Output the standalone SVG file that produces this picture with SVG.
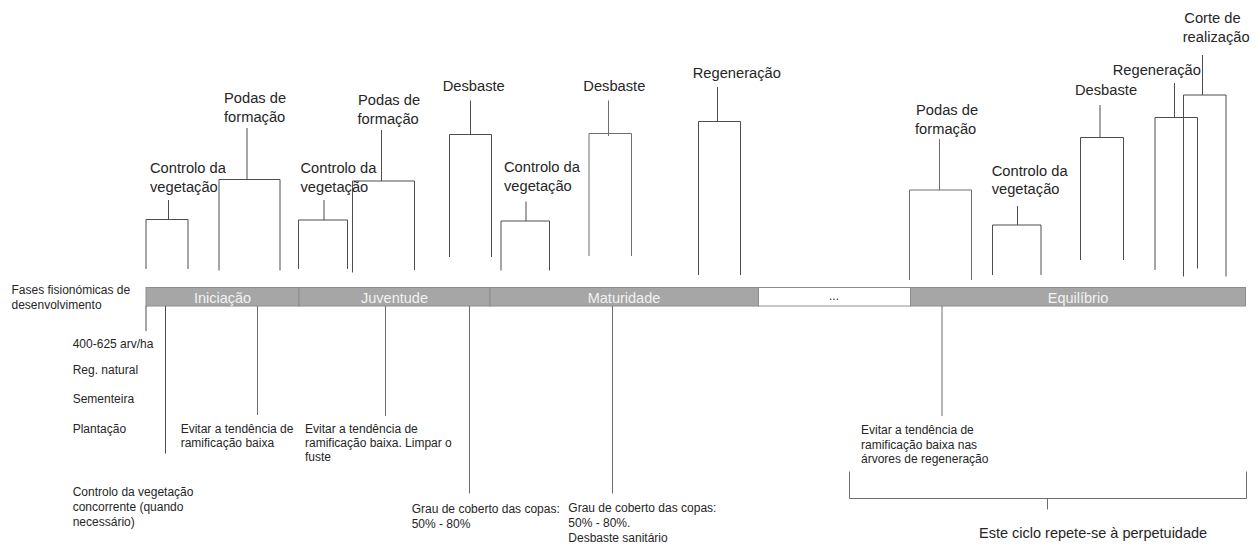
<svg xmlns="http://www.w3.org/2000/svg" width="1259" height="548" viewBox="0 0 1259 548">
<style>
  .t { font-family: "Liberation Sans", Arial, sans-serif; fill: #262626; }
  .lbl { font-size: 14.7px; }
  .sm { font-size: 12px; }
  .ph { font-family: "Liberation Sans", Arial, sans-serif; font-size: 14.5px; fill: #f2f2f2; text-anchor: middle; }
  .seg { fill: #a6a6a6; stroke: #8c8c8c; stroke-width: 1; }
  .segw { fill: #ffffff; stroke: #8c8c8c; stroke-width: 1; }
  .ln { fill: none; stroke: #4d4d4d; stroke-width: 1; }
  .lg { fill: none; stroke: #6e6e6e; stroke-width: 1; }
</style>
<rect width="1259" height="548" fill="#ffffff"/>

<!-- Phase bar -->
<g id="bar">
  <g id="phase-iniciacao"><rect class="seg" x="146" y="287.5" width="153" height="18.5"/><text class="ph" x="222.5" y="302.5">Iniciação</text></g>
  <g id="phase-juventude"><rect class="seg" x="299" y="287.5" width="191" height="18.5"/><text class="ph" x="394.5" y="302.5">Juventude</text></g>
  <g id="phase-maturidade"><rect class="seg" x="490" y="287.5" width="268.5" height="18.5"/><text class="ph" x="624" y="302.5">Maturidade</text></g>
  <g id="phase-dots"><rect class="segw" x="758.5" y="287.5" width="152" height="18.5"/><text class="t" x="834" y="300" font-size="12" text-anchor="middle">...</text></g>
  <g id="phase-equilibrio"><rect class="seg" x="910.5" y="287.5" width="335" height="18.5"/><text class="ph" x="1078" y="302.5">Equilíbrio</text></g>
</g>

<g id="title-fases"><text class="t sm" x="11.5" y="294">Fases fisionómicas de</text><text class="t sm" x="11.5" y="309">desenvolvimento</text></g>

<!-- Connectors -->
<g id="connectors">
  <!-- top brackets -->
  <path class="ln" d="M168.5 200V219.5M146 269V219.5H188V269"/>
  <path class="ln" d="M247 128V179.5M219 270.5V179.5H280V270.5"/>
  <path class="ln" d="M324 200V220M298.5 269V220H347.5V269"/>
  <path class="ln" d="M381.5 130V181M352.5 272.5V181H414.5V270"/>
  <path class="ln" d="M470.5 100.5V134.5M449.5 257V134.5H491.5V257"/>
  <path class="ln" d="M526 201.5V221M501 270.5V221H549.5V270.5"/>
  <path class="lg" d="M608.5 100.5V136M589 256V133.5H631.5V256"/>
  <path class="ln" d="M717.5 87V121.5M698.5 275V121.5H740.5V275"/>
  <path class="lg" d="M939.5 139V190M909.5 280V190H971.5V280"/>
  <path class="ln" d="M1017.5 206V225M992.5 275V225H1041V275"/>
  <path class="ln" d="M1100 105V137.5M1080.5 260V137.5H1123.5V260"/>
  <path class="ln" d="M1174.5 83V117.5M1155 270V117.5H1197.5V268.5"/>
  <path class="ln" d="M1202.5 55V95M1183.5 276.5V95H1226V276.5"/>
  <!-- lines below bar -->
  <path class="ln" d="M146 306V331"/>
  <path class="ln" d="M165.5 306V453.5"/>
  <path class="lg" d="M257.5 306V415"/>
  <path class="lg" d="M385.5 306V416"/>
  <path class="lg" d="M469.5 306V493.5"/>
  <path class="lg" d="M612.5 306V493.5"/>
  <path class="lg" d="M942 306V416"/>
  <!-- bottom cycle bracket -->
  <path class="lg" d="M849.5 471.5V498.5H1246.5V471.5M1047.5 498.5V509.5"/>
</g>

<!-- Top activity labels -->
<g id="ctrl-1"><text class="t lbl" x="150" y="172.5">Controlo da</text><text class="t lbl" x="150" y="191.5">vegetação</text></g>
<g id="podas-1"><text class="t lbl" x="224" y="102.5">Podas de</text><text class="t lbl" x="224" y="121.5">formação</text></g>
<g id="ctrl-2"><text class="t lbl" x="300.5" y="172.5">Controlo da</text><text class="t lbl" x="300.5" y="191.5">vegetação</text></g>
<g id="podas-2"><text class="t lbl" x="358" y="105">Podas de</text><text class="t lbl" x="357.5" y="124">formação</text></g>
<g id="desbaste-1"><text class="t lbl" x="442.7" y="90.7">Desbaste</text></g>
<g id="ctrl-3"><text class="t lbl" x="504" y="171.7">Controlo da</text><text class="t lbl" x="504" y="190.5">vegetação</text></g>
<g id="desbaste-2"><text class="t lbl" x="583.3" y="90.7">Desbaste</text></g>
<g id="regen-1"><text class="t lbl" x="692.7" y="78">Regeneração</text></g>
<g id="podas-3"><text class="t lbl" x="916" y="115">Podas de</text><text class="t lbl" x="915" y="134">formação</text></g>
<g id="ctrl-4"><text class="t lbl" x="991.7" y="175.5">Controlo da</text><text class="t lbl" x="991.7" y="194">vegetação</text></g>
<g id="desbaste-3"><text class="t lbl" x="1075" y="94.5">Desbaste</text></g>
<g id="regen-2"><text class="t lbl" x="1112.7" y="74.5">Regeneração</text></g>
<g id="corte"><text class="t lbl" x="1184.3" y="23.3">Corte de</text><text class="t lbl" x="1182.7" y="42">realização</text></g>

<!-- Bottom annotations -->
<g id="densidade">
  <text class="t sm" x="72.7" y="348.3">400-625 arv/ha</text>
  <text class="t sm" x="72.7" y="374">Reg. natural</text>
  <text class="t sm" x="72.7" y="402.7">Sementeira</text>
  <text class="t sm" x="72.7" y="432.7">Plantação</text>
</g>
<g id="ctrl-concorrente"><text class="t sm" x="72.7" y="496">Controlo da vegetação</text><text class="t sm" x="72.7" y="511">concorrente (quando</text><text class="t sm" x="72.7" y="525.7">necessário)</text></g>
<g id="evitar-1"><text class="t sm" x="180.7" y="432.7">Evitar a tendência de</text><text class="t sm" x="180.7" y="447">ramificação baixa</text></g>
<g id="evitar-2"><text class="t sm" x="305" y="432.7">Evitar a tendência de</text><text class="t sm" x="305" y="447">ramificação baixa. Limpar o</text><text class="t sm" x="305" y="461">fuste</text></g>
<g id="grau-1"><text class="t sm" x="411.7" y="513.3">Grau de coberto das copas:</text><text class="t sm" x="411.7" y="528.3">50% - 80%</text></g>
<g id="grau-2"><text class="t sm" x="568.3" y="512.3">Grau de coberto das copas:</text><text class="t sm" x="568.3" y="527">50% - 80%.</text><text class="t sm" x="568.3" y="542.3">Desbaste sanitário</text></g>
<g id="evitar-3"><text class="t sm" x="861" y="434">Evitar a tendência de</text><text class="t sm" x="861" y="448.5">ramificação baixa nas</text><text class="t sm" x="861" y="463.3">árvores de regeneração</text></g>
<g id="ciclo"><text class="t" x="979" y="538.3" font-size="14.5">Este ciclo repete-se à perpetuidade</text></g>
</svg>
